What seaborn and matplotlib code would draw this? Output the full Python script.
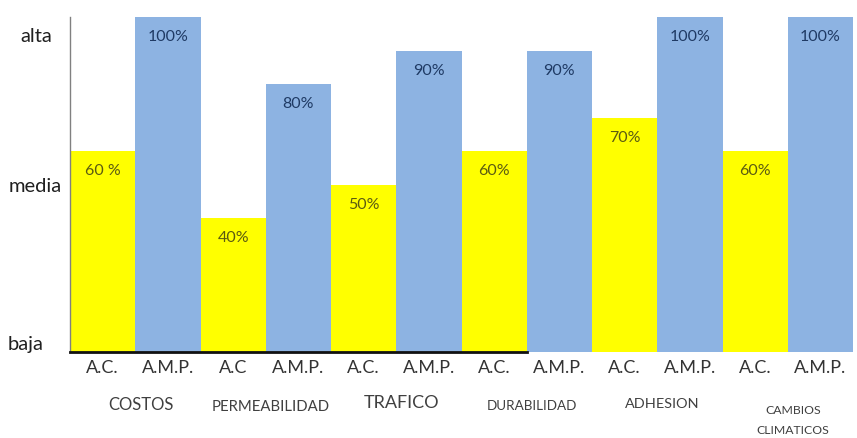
import matplotlib
matplotlib.use("Agg")
import matplotlib.pyplot as plt
import matplotlib.transforms as mtransforms
import pandas as pd
import seaborn as sns

# Comparison of conventional asphalt (A.C.) vs modified asphalt (A.M.P.)
groups = ["COSTOS", "PERMEABILIDAD", "TRAFICO", "DURABILIDAD", "ADHESION",
          "CAMBIOS\nCLIMATICOS"]
bar_kinds = ["A.C.", "A.M.P."] * 6
tick_labels = ["A.C.", "A.M.P.", "A.C", "A.M.P.", "A.C.", "A.M.P.",
               "A.C.", "A.M.P.", "A.C.", "A.M.P.", "A.C.", "A.M.P."]
ac_values = [60, 40, 50, 60, 70, 60]
amp_values = [100, 80, 90, 90, 100, 100]
value_texts = ["60 %", "100%", "40%", "80%", "50%", "90%",
               "60%", "90%", "70%", "100%", "60%", "100%"]
level_labels = ["alta", "media", "baja"]
level_positions = [95, 50, 3]

values = []
for a, m in zip(ac_values, amp_values):
    values += [a, m]

df = pd.DataFrame({"bar": list(range(len(values))), "value": values,
                   "kind": bar_kinds})

sns.set_style("white")
plt.rcParams["font.family"] = ["Lato", "DejaVu Sans"]

W, H = 857, 439
fig = plt.figure(figsize=(W / 100, H / 100), dpi=100)
ax = fig.add_axes([70 / W, (H - 353) / H, (853 - 70) / W, (353 - 18) / H])

palette = {"A.C.": "#ffff00", "A.M.P.": "#8db3e2"}
sns.barplot(data=df, x="bar", y="value", hue="kind", palette=palette,
            width=1.0, dodge=False, legend=False, saturation=1, ax=ax,
            linewidth=0)

ax.set_xlim(-0.5, len(values) - 0.5)
ax.set_ylim(0, 100)
ax.set_xlabel("")
ax.set_ylabel("")

# value labels inside the top of each bar
text_colors = {"A.C.": "#5b5b12", "A.M.P.": "#1f3a64"}
for i, (v, t, k) in enumerate(zip(values, value_texts, bar_kinds)):
    ax.annotate(t, (i, v), xytext=(0, -14), textcoords="offset points",
                ha="center", va="center", fontsize=11.5,
                color=text_colors[k])

# x tick labels
ax.set_xticks(range(len(values)))
ax.set_xticklabels(tick_labels, fontsize=13, color="#333333")
ax.tick_params(axis="x", length=0, pad=5)

# qualitative level labels on the y axis
ax.set_yticks(level_positions)
ax.set_yticklabels(level_labels, fontsize=14.5, color="#202020")
ax.tick_params(axis="y", length=0, pad=6)
shifts = {"alta": -10, "media": 0, "baja": -18}
for lab in ax.get_yticklabels():
    dx = shifts.get(lab.get_text(), 0) / 100.0
    lab.set_transform(lab.get_transform() +
                      mtransforms.ScaledTranslation(dx, 0,
                                                    fig.dpi_scale_trans))

# group names under each pair of bars
group_sizes = [12, 10.7, 13, 9.7, 10.4, 8.8]
group_tops = [-13.0, -14.0, -12.5, -14.0, -13.5, -15.5]
for g, (name, fs, y0) in enumerate(zip(groups, group_sizes, group_tops)):
    ax.text(2 * g + 0.5 + 0.08, y0, name, ha="center", va="top",
            fontsize=fs, color="#404040", linespacing=2.0,
            transform=ax.transData)

for side in ["top", "right"]:
    ax.spines[side].set_visible(False)
ax.spines["left"].set_color("#808080")
ax.spines["left"].set_linewidth(1.0)
ax.spines["bottom"].set_color("#111111")
ax.spines["bottom"].set_linewidth(2.0)
ax.spines["bottom"].set_bounds(-0.5, 6.5)

fig.savefig("out.png", dpi=100)
